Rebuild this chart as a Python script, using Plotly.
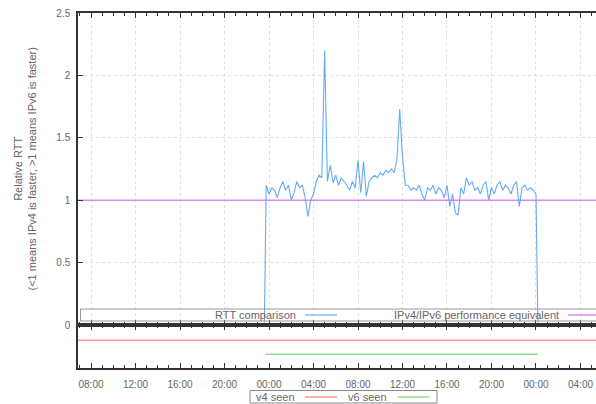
import pandas as pd
import plotly.graph_objects as go

# ---------------- data ----------------
rtt_start = ["2013-06-10 23:35"]
rtt_end = ["2013-06-12 00:10"]
rtt_mid_times = list(pd.date_range("2013-06-10 23:45", "2013-06-12 00:00", freq="15min").strftime("%Y-%m-%d %H:%M"))
rtt_times = rtt_start + rtt_mid_times + rtt_end

rtt_values = [0.02,
    1.12,
    1.05, 1.10, 1.08, 1.02,   # 00
    1.10, 1.15, 1.08, 1.12,   # 01
    1.00, 1.06, 1.15, 1.10,   # 02
    1.12, 1.02, 0.87, 1.00,   # 03
    1.05, 1.15, 1.20, 1.18,   # 04
    2.20, 1.15, 1.28, 1.14,   # 05
    1.20, 1.12, 1.18, 1.15,   # 06
    1.12, 1.08, 1.15, 1.10,   # 07
    1.32, 1.06, 1.31, 1.03,   # 08
    1.15, 1.18, 1.20, 1.18,   # 09
    1.22, 1.20, 1.24, 1.22,   # 10
    1.25, 1.22, 1.32, 1.73,   # 11
    1.35, 1.12, 1.12, 1.08,   # 12
    1.10, 1.08, 1.12, 1.05,   # 13
    1.00, 1.10, 1.08, 1.12,   # 14
    1.05, 1.10, 1.08, 1.02,   # 15
    1.12, 0.95, 1.05, 0.90,   # 16
    0.88, 1.10, 1.05, 1.18,   # 17
    1.12, 1.15, 1.08, 1.10,   # 18
    1.05, 1.12, 1.15, 1.00,   # 19
    1.10, 1.05, 1.12, 1.15,   # 20
    1.08, 1.12, 1.10, 1.05,   # 21
    1.12, 1.15, 0.95, 1.10,   # 22
    1.12, 1.08, 1.10, 1.08,   # 23
    1.05,
    0.02]

equiv_times = ["2013-06-10 06:40", "2013-06-12 05:40"]
equiv_values = [1, 1]

v4_times = ["2013-06-10 06:40", "2013-06-12 05:40"]
v4_values = [2, 2]
v6_times = ["2013-06-10 23:40", "2013-06-12 00:10"]
v6_values = [1, 1]

x_range = ["2013-06-10 06:49:50", "2013-06-12 05:23:40"]
y_range = [0, 2.5]

# ---------------- layout helpers ----------------
W, H = 596, 404
L, R, T, B = 78, 0, 13, 36
PW, PH = W - L - R, H - T - B


def px(x):                   # page pixel -> paper x
    return (x - L) / PW


def py(y):                   # page pixel -> paper y
    return (H - B - y) / PH


split = py(325)

BLUE = "#66aaf5"
PURPLE = "#dd88f8"
RED = "#ff9a9a"
GREEN = "#90e090"
AX = "#333333"
TXT = "#666666"
GRID = "#e0e0e0"
FONT = "Liberation Sans"

fig = go.Figure()
fig.add_trace(go.Scatter(x=equiv_times, y=equiv_values, mode="lines",
                         line=dict(color=PURPLE, width=1.5), xaxis="x", yaxis="y", hoverinfo="skip"))
fig.add_trace(go.Scatter(x=rtt_times, y=rtt_values, mode="lines",
                         line=dict(color=BLUE, width=1.1), xaxis="x", yaxis="y"))
fig.add_trace(go.Scatter(x=v4_times, y=v4_values, mode="lines",
                         line=dict(color=RED, width=1.5), xaxis="x2", yaxis="y2"))
fig.add_trace(go.Scatter(x=v6_times, y=v6_values, mode="lines",
                         line=dict(color=GREEN, width=1.5), xaxis="x2", yaxis="y2"))

xcommon = dict(type="date", range=x_range, dtick=4 * 3600 * 1000, tick0="2013-06-10 00:00",
               tickformat="%H:%M", ticks="inside", ticklen=5, tickwidth=1, tickcolor=AX,
               showline=True, linecolor=AX, linewidth=1.5, mirror="ticks", automargin=False,
               minor=dict(ticks="inside", dtick=3600 * 1000, ticklen=3, tickcolor=AX, showgrid=False),
               tickfont=dict(family=FONT, size=10, color=TXT), zeroline=False,
               ticklabeloverflow="allow")

fig.update_layout(
    width=W, height=H, margin=dict(l=L, r=R, t=T, b=B, autoexpand=False),
    paper_bgcolor="white", plot_bgcolor="white", showlegend=False,
    font=dict(family=FONT, size=10, color=TXT),
    xaxis=dict(xcommon, domain=[0, 1], anchor="y", showticklabels=False,
               showgrid=True, gridcolor=GRID, griddash="dot", gridwidth=1),
    yaxis=dict(domain=[split, 1], range=y_range, anchor="x", dtick=0.5, automargin=False,
               ticks="inside", ticklen=5, tickcolor=AX, showline=True, linecolor=AX, linewidth=1.5,
               showgrid=True, gridcolor=GRID, griddash="dot", zeroline=False,
               tickfont=dict(family=FONT, size=10, color=TXT), ticklabelstandoff=4,
               ticklabeloverflow="allow"),
    xaxis2=dict(xcommon, domain=[0, 1], anchor="y2", matches="x", showticklabels=True,
                showgrid=False, ticklabelstandoff=6),
    yaxis2=dict(domain=[0, split], range=[0, 3.1], anchor="x2", showticklabels=False, automargin=False,
                ticks="", showline=True, linecolor=AX, linewidth=1.5, showgrid=False, zeroline=False),
)

LF = dict(family=FONT, size=11, color=TXT)
shapes = []
annotations = []
# y axis title
annotations.append(dict(xref="paper", yref="paper", x=px(24.5), y=py(169),
                        text="Relative RTT<br>(&lt;1 means IPv4 is faster, &gt;1 means IPv6 is faster)",
                        textangle=-90, showarrow=False, xanchor="center", yanchor="middle", font=LF))
# main legend box
shapes.append(dict(type="rect", xref="paper", yref="paper", x0=px(80.5), x1=px(600), y0=py(321), y1=py(309),
                   line=dict(color="#999999", width=1)))
annotations.append(dict(xref="paper", yref="paper", x=px(298), y=py(315), text="RTT comparison",
                        showarrow=False, xanchor="right", yanchor="middle", font=LF))
shapes.append(dict(type="line", xref="paper", yref="paper", x0=px(305), x1=px(337), y0=py(315), y1=py(315),
                   line=dict(color=BLUE, width=1.2)))
annotations.append(dict(xref="paper", yref="paper", x=px(561), y=py(315), text="IPv4/IPv6 performance equivalent",
                        showarrow=False, xanchor="right", yanchor="middle", font=LF))
shapes.append(dict(type="line", xref="paper", yref="paper", x0=px(568), x1=px(600), y0=py(315), y1=py(315),
                   line=dict(color=PURPLE, width=1.5)))
# bottom legend box
shapes.append(dict(type="rect", xref="paper", yref="paper", x0=px(250), x1=px(437), y0=py(403), y1=py(390.5),
                   line=dict(color="#888888", width=1)))
annotations.append(dict(xref="paper", yref="paper", x=px(297), y=py(397), text="v4 seen",
                        showarrow=False, xanchor="right", yanchor="middle", font=LF))
shapes.append(dict(type="line", xref="paper", yref="paper", x0=px(305), x1=px(337), y0=py(397), y1=py(397),
                   line=dict(color=RED, width=1.5)))
annotations.append(dict(xref="paper", yref="paper", x=px(389), y=py(397), text="v6 seen",
                        showarrow=False, xanchor="right", yanchor="middle", font=LF))
shapes.append(dict(type="line", xref="paper", yref="paper", x0=px(398), x1=px(429), y0=py(397), y1=py(397),
                   line=dict(color=GREEN, width=1.5)))

fig.update_layout(shapes=shapes, annotations=annotations)
fig.write_html("out.html", config={"displayModeBar": False},
               post_script="document.body.style.margin='0px';document.body.style.overflow='hidden';")
